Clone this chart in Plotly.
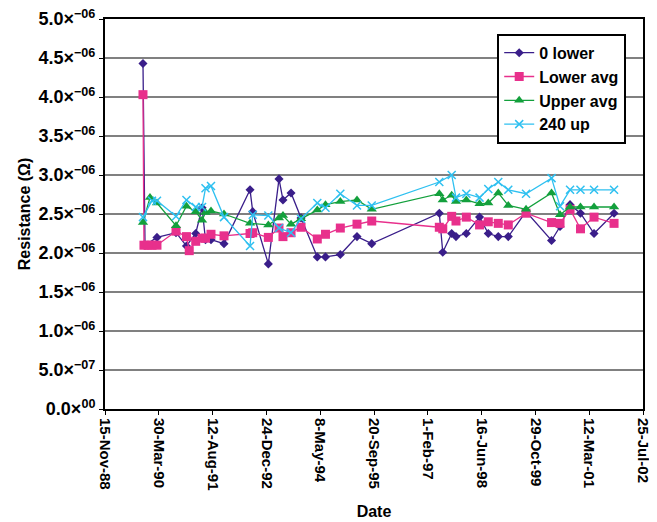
import plotly.graph_objects as go

dates = ["1989-11-03", "1989-11-12", "1989-11-22", "1989-12-20", "1990-01-07", "1990-01-26",
         "1990-03-13", "1990-09-06", "1990-12-12", "1991-01-07", "1991-03-08", "1991-05-06",
         "1991-06-07", "1991-07-28", "1991-11-26", "1992-07-25", "1992-08-19", "1993-01-11",
         "1993-04-20", "1993-05-27", "1993-08-10", "1993-11-11", "1994-04-11", "1994-06-26",
         "1994-11-11", "1995-04-15", "1995-08-30", "1997-05-19", "1997-06-20", "1997-09-11",
         "1997-10-21", "1998-01-25", "1998-05-28", "1998-08-17", "1998-11-18", "1999-02-19",
         "1999-08-03", "2000-03-27", "2000-06-14", "2000-09-15", "2000-12-21", "2001-04-26",
         "2001-10-29"]

# values in micro-ohm (x1e-6)
lower0 = [4.43, None, 2.10, None, None, None,
          2.20, 2.26, 2.09, None, 2.25, 2.58,
          2.17, 2.17, 2.12, 2.81, 2.53, 1.86,
          2.95, 2.68, 2.77, 2.45, 1.95, 1.95,
          1.98, 2.21, 2.12, 2.51, 2.01, 2.25,
          2.21, 2.25, 2.46, 2.25, 2.21, 2.21,
          2.53, 2.16, 2.34, 2.62, 2.51, 2.25,
          2.51]
lower_avg = [4.03, 2.10, None, 2.10, None, 2.10,
             2.10, 2.28, 2.21, 2.03, 2.15, 2.19,
             2.19, 2.24, 2.22, 2.25, 2.26, 2.20,
             2.32, 2.21, 2.26, 2.33, 2.18, 2.24,
             2.32, 2.37, 2.41, 2.33, 2.31, 2.47,
             2.41, 2.46, 2.36, 2.40, 2.38, 2.36,
             2.51, 2.39, 2.38, 2.56, 2.31, 2.46,
             2.38]
upper_avg = [2.39, None, None, None, 2.71, None,
             2.64, 2.35, 2.60, None, 2.53, 2.42,
             2.52, 2.54, 2.50, 2.38, None, 2.36,
             2.45, 2.48, 2.37, 2.44, 2.55, 2.62,
             2.66, 2.68, 2.56, 2.76, 2.68, 2.74,
             2.66, 2.68, 2.63, 2.64, 2.77, 2.61,
             2.56, 2.77, 2.49, 2.59, 2.59, 2.59,
             2.59]
up240 = [2.46, None, None, None, None, 2.67,
         2.67, 2.47, 2.68, None, 2.59, 2.59,
         2.83, 2.86, 2.46, 2.09, 2.49, 2.48,
         2.32, None, 2.26, 2.44, 2.64, 2.58,
         2.76, 2.61, 2.61, 2.91, None, 3.00,
         2.71, 2.76, 2.71, 2.82, 2.91, 2.81,
         2.76, 2.96, 2.60, 2.81, 2.81, 2.81,
         2.81]

tick_dates = ["1988-11-15", "1990-03-30", "1991-08-12", "1992-12-24", "1994-05-08", "1995-09-20",
              "1997-02-01", "1998-06-16", "1999-10-29", "2001-03-12", "2002-07-25"]
tick_labels = ["15-Nov-88", "30-Mar-90", "12-Aug-91", "24-Dec-92", "8-May-94", "20-Sep-95",
               "1-Feb-97", "16-Jun-98", "29-Oct-99", "12-Mar-01", "25-Jul-02"]

y_ticks = [0, 0.5e-6, 1.0e-6, 1.5e-6, 2.0e-6, 2.5e-6, 3.0e-6, 3.5e-6, 4.0e-6, 4.5e-6, 5.0e-6]
y_labels = ["0.0×<sup>00</sup>", "5.0×<sup>−07</sup>", "1.0×<sup>−06</sup>", "1.5×<sup>−06</sup>",
            "2.0×<sup>−06</sup>", "2.5×<sup>−06</sup>", "3.0×<sup>−06</sup>", "3.5×<sup>−06</sup>",
            "4.0×<sup>−06</sup>", "4.5×<sup>−06</sup>", "5.0×<sup>−06</sup>"]


def scale(vals):
    return [None if v is None else v * 1e-6 for v in vals]


FONT = "Liberation Sans, Arial, sans-serif"
fig = go.Figure()
fig.add_trace(go.Scatter(x=dates, y=scale(lower0), name="0 lower", mode="lines+markers",
                         connectgaps=True, line=dict(color="#3A1E8A", width=1.3),
                         marker=dict(symbol="diamond", size=7, color="#3A1E8A")))
fig.add_trace(go.Scatter(x=dates, y=scale(lower_avg), name="Lower avg", mode="lines+markers",
                         connectgaps=True, line=dict(color="#E8308C", width=1.3),
                         marker=dict(symbol="square", size=9, color="#E8308C")))
fig.add_trace(go.Scatter(x=dates, y=scale(upper_avg), name="Upper avg", mode="lines+markers",
                         connectgaps=True, line=dict(color="#13A03C", width=1.3),
                         marker=dict(symbol="triangle-up", size=9, color="#13A03C")))
fig.add_trace(go.Scatter(x=dates, y=scale(up240), name="240 up", mode="lines+markers",
                         connectgaps=True, line=dict(color="#2EC0F0", width=1.3),
                         marker=dict(symbol="x-thin", size=8, color="#2EC0F0",
                                     line=dict(color="#2EC0F0", width=1.5))))

fig.update_layout(
    width=657, height=522,
    margin=dict(l=97, r=22, t=11, b=121),
    paper_bgcolor="white", plot_bgcolor="white",
    font=dict(family=FONT, size=14, color="black"),
    showlegend=True,
    legend=dict(x=0.729, y=0.962, xanchor="left", yanchor="top",
                bgcolor="white", bordercolor="black", borderwidth=2,
                font=dict(family=FONT, size=16, color="black", weight="bold"),
                tracegroupgap=0, itemwidth=30),
    xaxis=dict(type="date", range=["1988-11-15", "2002-07-25"], automargin=False,
               tickvals=tick_dates, ticktext=tick_labels, tickangle=90,
               ticklabeloverflow="allow",
               showgrid=False, showline=True, linecolor="black", linewidth=2,
               mirror=True, ticks="outside", ticklen=4, tickwidth=1, tickcolor="black",
               tickfont=dict(family=FONT, size=15, color="black", weight="bold"),
               title=dict(text="Date", font=dict(family=FONT, size=16, color="black", weight="bold"),
                          standoff=16),
               zeroline=False),
    yaxis=dict(range=[0, 5.0e-6], tickvals=y_ticks, ticktext=y_labels, automargin=False,
               ticklabeloverflow="allow",
               showgrid=True, gridcolor="#808080", gridwidth=2,
               showline=True, linecolor="black", linewidth=2, mirror=True,
               ticks="outside", ticklen=4, tickwidth=1, tickcolor="black",
               tickfont=dict(family=FONT, size=18, color="black", weight="bold"),
               title=dict(text="Resistance (Ω)", font=dict(family=FONT, size=16, color="black", weight="bold"),
                          standoff=4),
               zeroline=False),
)

fig.write_html("out.html")
